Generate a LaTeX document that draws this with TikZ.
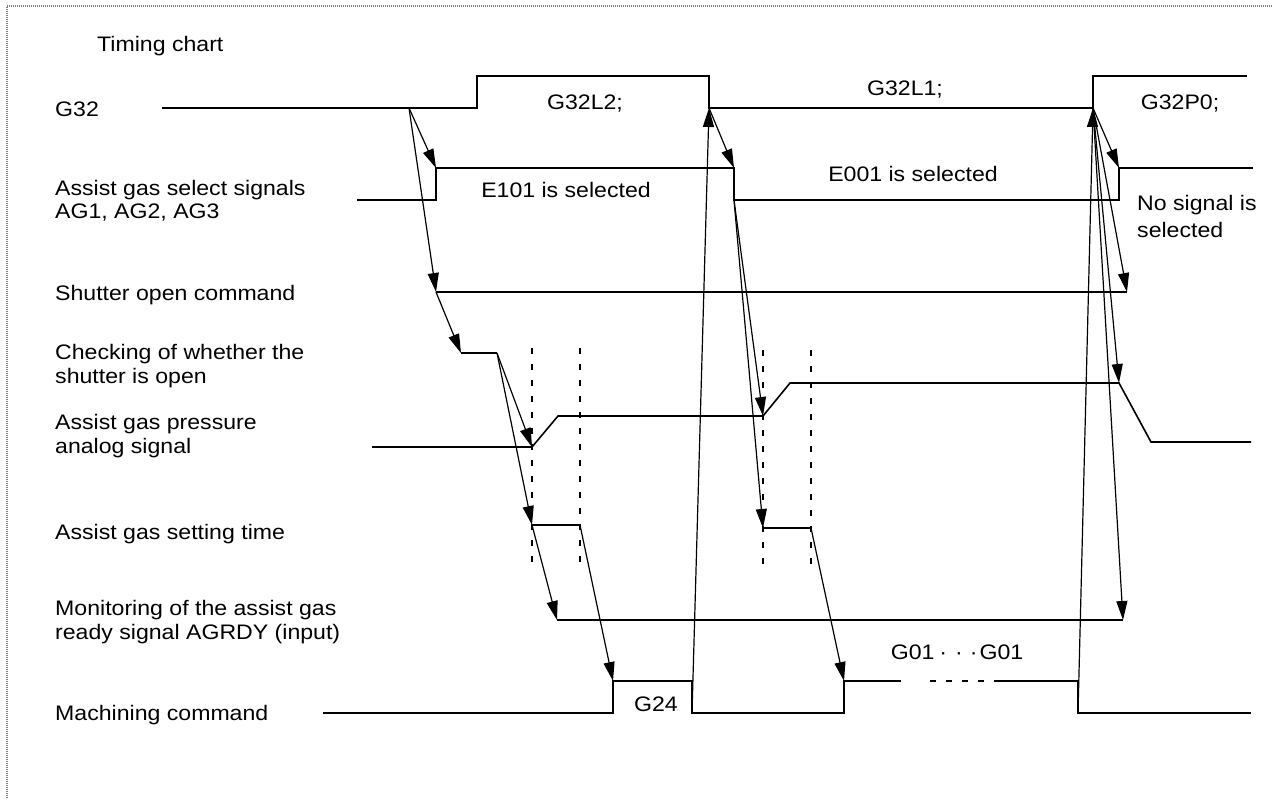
\documentclass[tikz,border=0pt]{standalone}
\usepackage{fontspec}
\setmainfont{Liberation Sans}[FakeStretch=1.1]
\usetikzlibrary{arrows.meta}
\begin{document}
\begin{tikzpicture}[x=1pt,y=-1pt,
 sig/.style={line width=1.6pt, line join=miter},
 arr/.style={line width=1.2pt, -{Triangle[length=19pt,width=11pt]}},
 dsh/.style={line width=1.3pt, dash pattern=on 6pt off 10pt},
 lbl/.style={anchor=base west, inner sep=0pt, font=\fontsize{21}{25}\selectfont},
 ctr/.style={anchor=base, inner sep=0pt, font=\fontsize{21}{25}\selectfont}]
\useasboundingbox (0,0) rectangle (1273,798);
\draw[gray, line width=2pt, dash pattern=on 1pt off 1pt] (7,798) -- (7,6) -- (1273,6);

% labels
\node[lbl] (tc) at (97,51) {Timing chart};
\node[lbl] (l1) at (55,116) {G32};
\node[lbl] (l2a) at (55,195) {Assist gas select signals};
\node[lbl] (l2b) at (55,218) {AG1, AG2, AG3};
\node[lbl] (l3) at (55,300) {Shutter open command};
\node[lbl] (l4a) at (55,359) {Checking of whether the};
\node[lbl] (l4b) at (55,383) {shutter is open};
\node[lbl] (l5a) at (55,429) {Assist gas pressure};
\node[lbl] (l5b) at (55,453) {analog signal};
\node[lbl] (l6) at (55,539) {Assist gas setting time};
\node[lbl] (l7a) at (55,615) {Monitoring of the assist gas};
\node[lbl] (l7b) at (55,639) {ready signal AGRDY (input)};
\node[lbl] (l8) at (55,720) {Machining command};

\node[ctr] (t1) at (585,109) {G32L2;};
\node[ctr] (t2) at (905,95) {G32L1;};
\node[ctr] (t3) at (1180,109) {G32P0;};
\node[ctr] (t4) at (566,197) {E101 is selected};
\node[ctr] (t5) at (913,181) {E001 is selected};
\node[lbl] (t6a) at (1137,210) {No signal is};
\node[lbl] (t6b) at (1137,237) {selected};
\node[ctr] (t7) at (656,711) {G24};
\node[ctr] (t8) at (957,659) {G01\hspace{5pt}·\hspace{8pt}·\hspace{7pt}·\hspace{2pt}G01};

% key points
\coordinate (g32a) at (409,108);
\coordinate (g32b) at (709,108);
\coordinate (g32c) at (1093,108);
\coordinate (sel1) at (436,168);
\coordinate (sel2t) at (734,168);
\coordinate (sel2b) at (734,200);
\coordinate (sel3) at (1119,168);
\coordinate (sh1) at (436,292);
\coordinate (sh2) at (1127,292);
\coordinate (ck1) at (461,353);
\coordinate (ck2) at (497,353);
\coordinate (p1) at (532,447);
\coordinate (p2) at (763,416);
\coordinate (p3) at (1119,383);
\coordinate (st1) at (532,525);
\coordinate (st2) at (580,525);
\coordinate (st3) at (763,528);
\coordinate (st4) at (811,528);
\coordinate (m1) at (557,620);
\coordinate (m2) at (1123,620);
\coordinate (mc1) at (613,681);
\coordinate (mc2) at (692,713);
\coordinate (mc3) at (844,681);
\coordinate (mc4) at (1078,713);

% signals
\draw[sig] (162,108) -- (477,108) -- (477,76) -- (709,76) -- (g32b) -- (g32c) -- (1093,76) -- (1247,76);
\draw[sig] (357,200) -- (436,200) -- (sel1) -- (sel2t) -- (sel2b) -- (1119,200) -- (sel3) -- (1253,168);
\draw[sig] (sh1) -- (sh2);
\draw[sig] (ck1) -- (ck2);
\draw[sig] (372,447) -- (p1) -- (558,416) -- (p2) -- (790,383) -- (p3) -- (1151,442) -- (1251,442);
\draw[sig] (st1) -- (st2);
\draw[sig] (st3) -- (st4);
\draw[sig] (m1) -- (m2);
\draw[sig] (323,713) -- (613,713) -- (mc1) -- (692,681) -- (mc2) -- (844,713) -- (mc3) -- (901,681);
\draw[sig, dash pattern=on 6pt off 10pt] (930,681) -- (998,681);
\draw[sig] (998,681) -- (1078,681) -- (mc4) -- (1251,713);

% dashed verticals
\draw[dsh] (532,348) -- (532,566);
\draw[dsh] (580,348) -- (580,566);
\draw[dsh] (763,350) -- (763,568);
\draw[dsh] (811,350) -- (811,568);

% arrows
\draw[arr] (g32a) -- (sel1);
\draw[arr] (g32a) -- (sh1);
\draw[arr] (sh1) -- (ck1);
\draw[arr] (ck2) -- (p1);
\draw[arr] (ck2) -- (st1);
\draw[arr] (st1) -- (m1);
\draw[arr] (st2) -- (mc1);
\draw[arr] (mc2) -- (g32b);
\draw[arr] (g32b) -- (sel2t);
\draw[arr] (sel2b) -- (p2);
\draw[arr] (sel2b) -- (st3);
\draw[arr] (st4) -- (mc3);
\draw[arr] (mc4) -- (g32c);
\draw[arr] (g32c) -- (sel3);
\draw[arr] (g32c) -- (sh2);
\draw[arr] (g32c) -- (p3);
\draw[arr] (g32c) -- (m2);
\end{tikzpicture}
\end{document}
